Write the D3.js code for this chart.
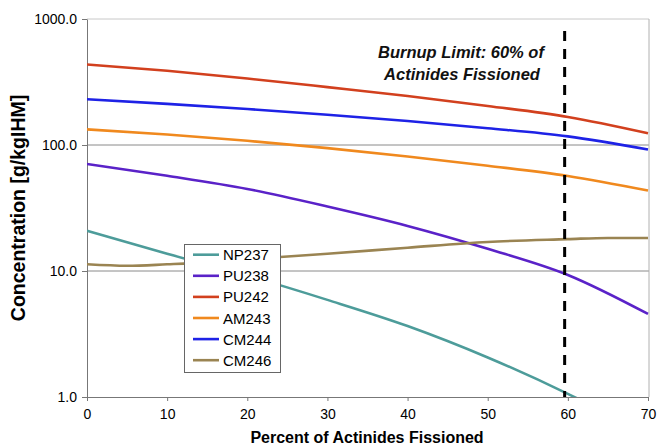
<!DOCTYPE html>
<html><head><meta charset="utf-8">
<script src="https://cdn.jsdelivr.net/npm/d3@7"></script>
<style>body{margin:0;background:#fff}svg{display:block}text{font-family:Arial,"Liberation Sans",sans-serif}</style>
</head><body><svg id="c" width="659" height="447"></svg>
<script>
const xTicks = [0,10,20,30,40,50,60,70];
const yTicks = [1,10,100,1000];
const np237 = [[0,20.9],[10,13.7],[20,9.2],[30,5.9],[40,3.66],[50,2.06],[60,1.06],[70,0.5]];
const pu238 = [[0,70.7],[10,57],[20,44.8],[30,32.5],[40,22.8],[50,15.0],[60,9.3],[70,4.56]];
const pu242 = [[0,435],[10,388],[20,337],[30,288],[40,245],[50,204],[60,167],[70,124]];
const am243 = [[0,133],[10,121],[20,108],[30,94.4],[40,81],[50,68.5],[60,56.8],[70,43.5]];
const cm244 = [[0,231],[10,212],[20,193],[30,174],[40,155],[50,136],[60,117],[70,92]];
const cm246 = [[0,11.3],[5,11.0],[10,11.3],[15,11.7],[20,12.4],[30,13.7],[40,15.3],[50,17.0],[60,17.9],[65,18.3],[70,18.3]];
const seriesNames = ["NP237","PU238","PU242","AM243","CM244","CM246"];
const seriesData = [np237,pu238,pu242,am243,cm244,cm246];
const colors = ["#4d9c9a","#5a22c8","#d2401e","#f0891e","#1e22e6","#9a8452"];
const limitX = 59.6;

const svg = d3.select("#c");
const L=87, R=648, T=19, B=397;
const x = d3.scaleLinear().domain([0,70]).range([L,R]);
const y = d3.scaleLog().domain([1,1000]).range([B,T]);

// grid
svg.append("g").selectAll("line").data(yTicks.slice(1)).join("line")
  .attr("x1",L).attr("x2",R+1).attr("y1",d=>y(d)).attr("y2",d=>y(d))
  .attr("stroke",d=>d===1000?"#c8c8c8":"#8a8a8a").attr("stroke-width",1);
svg.append("line").attr("x1",R+1).attr("x2",R+1).attr("y1",T).attr("y2",B)
  .attr("stroke","#b0b0b0");

// axes
const yAx = svg.append("g").attr("transform",`translate(${L},0)`)
  .call(d3.axisLeft(y).tickValues(yTicks).tickFormat(d3.format(".1f")).tickSize(5).tickSizeOuter(0));
const xAx = svg.append("g").attr("transform",`translate(0,${B})`)
  .call(d3.axisBottom(x).tickValues(xTicks).tickSize(4).tickSizeOuter(0));
[yAx,xAx].forEach(a=>{a.select(".domain").attr("stroke","#777");a.selectAll(".tick line").attr("stroke","#777");
  a.selectAll("text").attr("font-size",14).attr("fill","#000").attr("font-family","Arial,'Liberation Sans',sans-serif");});
yAx.selectAll("text").attr("dx","-2");
xAx.selectAll("text").attr("dy","1.05em");

// clip
svg.append("clipPath").attr("id","clip").append("rect").attr("x",L).attr("y",T-2).attr("width",R-L+2).attr("height",B-T+2);

const line = d3.line().x(d=>x(d[0])).y(d=>y(Math.max(d[1],0.1))).curve(d3.curveMonotoneX);
svg.append("g").attr("clip-path","url(#clip)").selectAll("path").data(seriesData).join("path")
  .attr("d",line).attr("fill","none").attr("stroke",(d,i)=>colors[i]).attr("stroke-width",2.6);

// limit line
svg.append("line").attr("x1",x(limitX)).attr("x2",x(limitX)).attr("y1",31).attr("y2",B)
  .attr("stroke","#000").attr("stroke-width",3).attr("stroke-dasharray","10,8");

// annotation
const ann = svg.append("text").attr("font-weight","bold").attr("font-style","italic").attr("font-size",16.5)
  .attr("text-anchor","middle").attr("fill","#111");
ann.append("tspan").attr("x",461).attr("y",58).text("Burnup Limit: 60% of");
ann.append("tspan").attr("x",462).attr("y",80).text("Actinides Fissioned");

// legend
const lg = svg.append("g");
lg.append("rect").attr("x",184.5).attr("y",244.5).attr("width",96).attr("height",128)
  .attr("fill","#fff").attr("stroke","#666").attr("stroke-width",1);
const items = lg.selectAll("g.it").data(seriesNames).join("g").attr("class","it")
  .attr("transform",(d,i)=>`translate(0,${254.7+i*21.1})`);
items.append("line").attr("x1",193).attr("x2",219).attr("stroke",(d,i)=>colors[i]).attr("stroke-width",2.6);
items.append("text").attr("x",223).attr("y",5.5).attr("font-size",15).attr("fill","#000").text(d=>d);

// axis titles
svg.append("text").attr("x",367).attr("y",443).attr("text-anchor","middle").attr("font-weight","bold")
  .attr("font-size",16).text("Percent of Actinides Fissioned");
svg.append("text").attr("transform","translate(25,208) rotate(-90)").attr("text-anchor","middle")
  .attr("font-weight","bold").attr("font-size",19.5).text("Concentration [g/kgIHM]");
</script></body></html>
